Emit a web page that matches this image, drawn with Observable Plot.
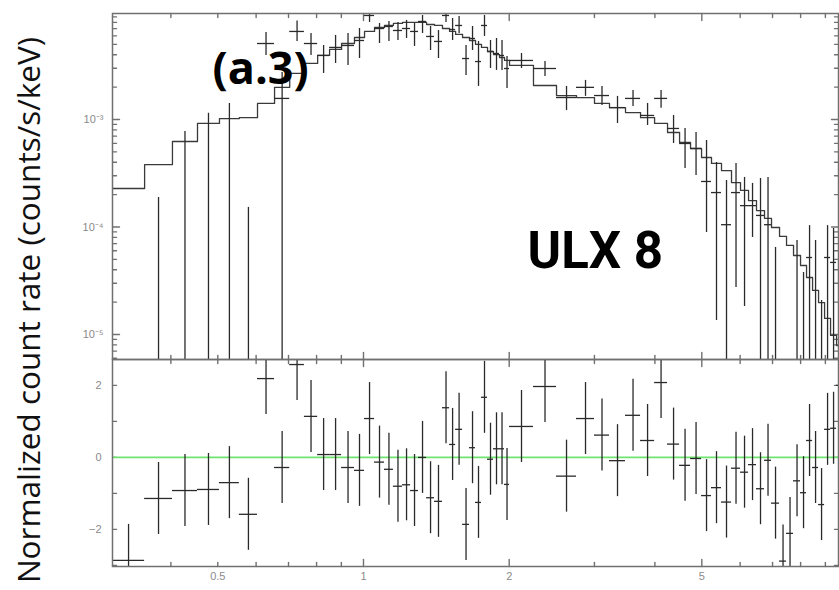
<!DOCTYPE html>
<html>
<head>
<meta charset="utf-8">
<script src="https://cdn.jsdelivr.net/npm/d3@7"></script>
<script src="https://cdn.jsdelivr.net/npm/@observablehq/plot@0.6"></script>
<style>
  html, body { margin: 0; padding: 0; background: #fff; }
  #wrap { position: relative; width: 839px; height: 590px; overflow: hidden; background: #fff; }
  #top { position: absolute; left: 0; top: 0; }
  #bot { position: absolute; left: 0; top: 359px; }
  #ytitle {
    position: absolute; width: 620px; left: -282px; top: 294px; height: 32px; line-height: 32px;
    text-align: center; transform: rotate(-90deg); transform-origin: 50% 50%;
    font-family: "Open Sans", sans-serif; font-size: 31.5px; color: #111; white-space: nowrap;
  }
</style>
</head>
<body>
<div id="wrap">
  <div id="top"></div>
  <div id="bot"></div>
  <div id="ytitle">Normalized count rate (counts/s/keV)</div>
</div>
<script>
// ---- bins (keV) ----
const binLo = [0.303,0.353,0.403,0.454,0.504,0.554,0.604,0.655,0.704,0.755,0.804,0.851,0.901,0.958,1.005,1.054,1.105,1.153,1.204,1.251,1.299,1.350,1.402,1.456,1.506,1.550,1.602,1.656,1.704,1.753,1.804,1.856,1.910,1.956,2.003,2.245,2.505,2.755,3.001,3.223,3.478,3.736,3.994,4.248,4.498,4.739,4.994,5.236,5.491,5.759,6.011,6.245,6.486,6.738,6.966,7.237,7.482,7.735,7.997,8.229,8.468,8.713,8.966,9.225,9.492];
const binHi = [0.353,0.403,0.454,0.504,0.554,0.604,0.655,0.704,0.755,0.804,0.851,0.901,0.958,1.005,1.054,1.105,1.153,1.204,1.251,1.299,1.350,1.402,1.456,1.506,1.550,1.602,1.656,1.704,1.753,1.804,1.856,1.910,1.956,2.003,2.245,2.505,2.755,3.001,3.223,3.478,3.736,3.994,4.248,4.498,4.739,4.994,5.236,5.491,5.759,6.011,6.245,6.486,6.738,6.966,7.237,7.482,7.735,7.997,8.229,8.468,8.713,8.966,9.225,9.492,9.766];

// ---- data (counts/s/keV); null = point outside the panel ----
const rate = [null,null,null,null,null,null,5.09e-3,1.57e-3,6.59e-3,5.09e-3,
  3.94e-3,4.68e-3,4.88e-3,5.43e-3,9.28e-3,7.02e-3,7.33e-3,6.73e-3,7.02e-3,6.59e-3,
  8.16e-3,5.92e-3,5.32e-3,9.28e-3,6.87e-3,7.49e-3,3.69e-3,5.67e-3,3.46e-3,7.49e-3,
  4.29e-3,4.11e-3,3.94e-3,2.98e-3,3.54e-3,2.98e-3,1.60e-3,1.99e-3,1.67e-3,1.29e-3,
  1.57e-3,1.09e-3,1.57e-3,8.25e-4,5.98e-4,5.37e-4,2.65e-4,2.09e-4,1.05e-4,2.09e-4,
  1.58e-4,1.58e-4,1.28e-4,1.05e-4,null,null,null,null,null,5.20e-5,
  null,null,5.20e-5,4.68e-5,null];
const rateLo = [null,1e-6,1e-6,1e-6,1e-6,1e-6,3.94e-3,1e-6,5.32e-3,3.94e-3,
  2.68e-3,3.32e-3,3.18e-3,3.69e-3,7.99e-3,5.09e-3,5.32e-3,5.43e-3,5.67e-3,4.78e-3,
  6.31e-3,4.38e-3,3.69e-3,7.99e-3,5.43e-3,6.31e-3,2.57e-3,4.38e-3,2.03e-3,5.92e-3,
  2.98e-3,2.86e-3,2.86e-3,1.94e-3,2.98e-3,2.51e-3,1.21e-3,1.64e-3,1.35e-3,9.18e-4,
  1.32e-3,8.79e-4,1.27e-3,5.98e-4,3.50e-4,3.01e-4,8.89e-5,1.35e-5,1e-6,2.74e-5,
  1.82e-5,7.99e-5,1e-6,1e-6,1e-6,null,null,1e-6,1e-6,1e-6,
  1e-6,1e-6,1e-6,1e-6,null];
const rateHi = [null,1.88e-4,7.73e-4,1.14e-3,1.41e-3,1.52e-4,6.45e-3,2.74e-3,8.25e-3,6.31e-3,
  4.88e-3,6.05e-3,6.31e-3,7.02e-3,1.08e-2,7.82e-3,8.16e-3,7.99e-3,8.34e-3,7.82e-3,
  9.28e-3,7.33e-3,6.73e-3,1.08e-2,8.70e-3,9.08e-3,4.88e-3,7.33e-3,5.32e-3,9.28e-3,
  5.43e-3,5.67e-3,5.43e-3,3.85e-3,4.11e-3,3.46e-3,2.03e-3,2.31e-3,2.03e-3,1.64e-3,
  1.86e-3,1.41e-3,1.86e-3,1.09e-3,8.25e-4,7.57e-4,6.38e-4,3.98e-4,2.71e-4,3.90e-4,
  2.89e-4,2.54e-4,2.83e-4,2.89e-4,6.45e-5,null,null,7.49e-5,3.77e-5,1.03e-4,
  7.49e-5,2.07e-5,1.03e-4,9.68e-5,null];

// ---- folded model (counts/s/keV) ----
const model = [2.28e-4,3.81e-4,6.24e-4,9.18e-4,1.02e-3,1.04e-3,1.41e-3,1.99e-3,2.68e-3,3.32e-3,
  3.94e-3,4.48e-3,5.09e-3,5.79e-3,6.59e-3,7.17e-3,7.49e-3,7.82e-3,7.99e-3,7.99e-3,
  7.99e-3,7.65e-3,7.49e-3,7.02e-3,6.59e-3,6.18e-3,5.79e-3,5.43e-3,4.99e-3,4.68e-3,
  4.29e-3,4.02e-3,3.77e-3,3.54e-3,3.18e-3,2.07e-3,1.67e-3,1.60e-3,1.41e-3,1.29e-3,
  1.16e-3,1.04e-3,9.18e-4,7.57e-4,6.11e-4,5.37e-4,4.43e-4,3.90e-4,3.35e-4,2.59e-4,
  2.19e-4,1.76e-4,1.42e-4,1.20e-4,9.89e-5,8.16e-5,6.73e-5,5.43e-5,4.38e-5,3.39e-5,
  2.57e-5,1.98e-5,1.41e-5,9.79e-6,7.90e-6];

// ---- residuals (sigma) ----
const resid = [-2.86,-1.14,-0.92,-0.89,-0.70,-1.58,2.19,-0.28,2.58,1.14,
  0.08,0.08,-0.28,-0.36,1.08,-0.13,-0.33,-0.80,-0.76,-0.92,
  0.00,-1.12,-1.22,1.38,0.36,0.78,-1.86,0.27,-1.25,1.67,
  -0.05,0.24,0.24,-0.75,0.86,1.97,-0.52,1.08,0.62,-0.09,
  1.17,0.47,2.08,0.37,-0.22,-0.03,-1.06,-0.84,-1.24,-0.30,
  -0.41,-0.20,-0.87,-0.08,-1.27,-2.88,-2.11,-0.65,-0.98,0.47,
  -0.28,-1.31,0.78,0.81,2.00];

// ---- axes ----
const xDomain = [0.303, 9.58];
const yTopDomain = [5.85e-6, 9.68e-3];
const yBotDomain = [-3.03, 2.72];
const xMajorTicks = [1, 2, 5];
const xMinorTicks = [0.4, 0.5, 0.6, 0.7, 0.8, 0.9, 3, 4, 6, 7, 8, 9];
const xTickLabels = [0.5, 1, 2, 5];
const yTopMajor = [1e-5, 1e-4, 1e-3];
const yTopMinor = [6e-6,7e-6,8e-6,9e-6,2e-5,3e-5,4e-5,5e-5,6e-5,7e-5,8e-5,9e-5,2e-4,3e-4,4e-4,5e-4,6e-4,7e-4,8e-4,9e-4,2e-3,3e-3,4e-3,5e-3,6e-3,7e-3,8e-3,9e-3];
const yBotTicks = [-3, -2, -1, 0, 1, 2];
const yBotLabels = [-2, 0, 2];

const bins = binLo.map((lo, i) => ({
  lo, hi: binHi[i], mid: Math.sqrt(lo * binHi[i]),
  rate: rate[i], rLo: rateLo[i], rHi: rateHi[i], model: model[i], resid: resid[i]
}));
const modelStep = bins.map(b => ({x: b.lo, y: b.model}))
  .concat([{x: bins[bins.length - 1].hi, y: bins[bins.length - 1].model}]);

const GRAY = "#707070";
const LABEL = "#8a8a8a";
const INK = "#2a2a2a";
const sup = d => "10" + String(Math.round(Math.log10(d))).replace("-", "⁻").replace(/\d/g, c => "⁰¹²³⁴⁵⁶⁷⁸⁹"[c]);

const common = {
  width: 839, marginLeft: 112, marginRight: 1,
  style: {fontFamily: "Liberation Sans, Arial, sans-serif", background: "transparent", overflow: "visible"}
};

// inward-pointing ticks: frame-anchored vectors (length in px)
const spike = {draw(ctx, l) { ctx.moveTo(0, 0); ctx.lineTo(0, -l); }};
function ticksSide(kind, side, ticks, L) {
  const rot = {bottom: 0, top: 180, left: 90, right: -90}[side];
  const opts = {frameAnchor: side, length: L, rotate: rot, anchor: "start", shape: spike, stroke: GRAY, strokeWidth: 1.4};
  if (kind === "x") opts.x = d => d; else opts.y = d => d;
  return Plot.vector(ticks, opts);
}
function allTicks(xMinor, xMajor, yMinor, yMajor) {
  return [
    ticksSide("x", "bottom", xMinor, 4), ticksSide("x", "bottom", xMajor, 7),
    ticksSide("x", "top", xMinor, 4), ticksSide("x", "top", xMajor, 7),
    ticksSide("y", "left", yMinor, 4), ticksSide("y", "left", yMajor, 7),
    ticksSide("y", "right", yMinor, 4), ticksSide("y", "right", yMajor, 7)
  ];
}

const topPlot = Plot.plot({
  ...common,
  height: 359, marginTop: 13, marginBottom: 0,
  x: {type: "log", domain: xDomain},
  y: {type: "log", domain: yTopDomain},
  marks: [
    ...allTicks(xMinorTicks, xMajorTicks, yTopMinor, yTopMajor),
    Plot.axisY(yTopMajor, {anchor: "left", tickSize: 0, tickPadding: 9, tickFormat: sup, label: null, fill: LABEL, fontSize: 11}),
    Plot.axisX([], {label: null}),
    Plot.line(modelStep, {x: "x", y: "y", curve: "step-after", stroke: "#3a3a3a", strokeWidth: 1.3, clip: true}),
    Plot.ruleY(bins, {y: "rate", x1: "lo", x2: "hi", stroke: INK, strokeWidth: 1.3, clip: true}),
    Plot.ruleX(bins, {x: "mid", y1: "rLo", y2: "rHi", stroke: INK, strokeWidth: 1.3, clip: true}),
    Plot.text(["(a.3)"], {x: 0.4876, y: 2.16e-3, text: d => d, textAnchor: "start", lineAnchor: "bottom",
      fontFamily: "Open Sans, sans-serif", fontWeight: 700, fontSize: 45, fill: "#000"}),
    Plot.text(["ULX 8"], {x: 2.183, y: 4.11e-5, text: d => d, textAnchor: "start", lineAnchor: "bottom",
      fontFamily: "Roboto, sans-serif", fontWeight: 700, fontSize: 51, fill: "#000"}),
    Plot.frame({stroke: GRAY, strokeWidth: 1.5})
  ]
});
document.getElementById("top").appendChild(topPlot);

const botPlot = Plot.plot({
  ...common,
  height: 231, marginTop: 0, marginBottom: 24,
  x: {type: "log", domain: xDomain},
  y: {domain: yBotDomain},
  marks: [
    ...allTicks(xMinorTicks, xMajorTicks, yBotTicks, []),
    Plot.axisX(xTickLabels, {anchor: "bottom", tickSize: 0, tickPadding: 6, tickFormat: d => String(d), label: null, fill: LABEL, fontSize: 11}),
    Plot.axisY(yBotLabels, {anchor: "left", tickSize: 0, tickPadding: 11, label: null, fill: LABEL, fontSize: 11}),
    Plot.ruleY([0], {stroke: "#6fe36f", strokeWidth: 1.6}),
    Plot.ruleY(bins, {y: "resid", x1: "lo", x2: "hi", stroke: INK, strokeWidth: 1.3, clip: true}),
    Plot.ruleX(bins, {x: "mid", y1: d => d.resid - 1, y2: d => d.resid + 1, stroke: INK, strokeWidth: 1.3, clip: true}),
    Plot.frame({stroke: GRAY, strokeWidth: 1.5})
  ]
});
document.getElementById("bot").appendChild(botPlot);
</script>
</body>
</html>
